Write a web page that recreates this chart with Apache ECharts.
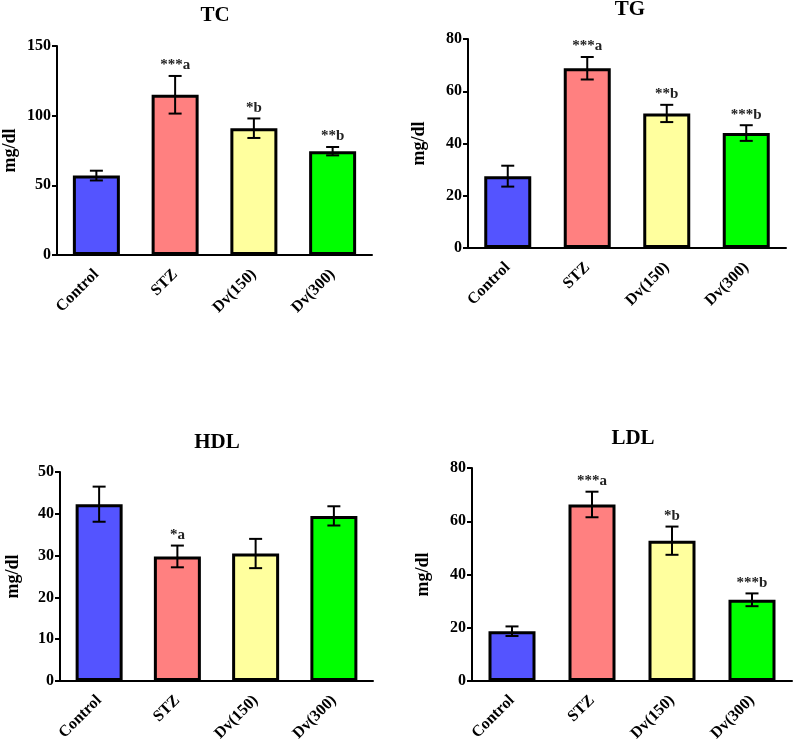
<!DOCTYPE html>
<html><head><meta charset="utf-8">
<script src="https://cdn.jsdelivr.net/npm/echarts@6/dist/echarts.min.js"></script>
<style>html,body{margin:0;padding:0;background:#fff}#c{width:794px;height:741px}</style>
</head><body><div id="c"></div>
<script>
const categories = ['Control', 'STZ', 'Dv(150)', 'Dv(300)'];
const colors = ['#5454FF', '#FF8080', '#FFFF9E', '#00FF00'];

const tcMean = [57, 115, 91, 74.5];
const tcErr = [3.5, 13.5, 7, 3];
const tcMarks = ['', '***a', '*b', '**b'];

const tgMean = [27.5, 68.8, 51.5, 44];
const tgErr = [4, 4.3, 3.3, 3];
const tgMarks = ['', '***a', '**b', '***b'];

const hdlMean = [42.3, 29.8, 30.5, 39.5];
const hdlErr = [4.2, 2.6, 3.5, 2.3];
const hdlMarks = ['', '*a', '', ''];

const ldlMean = [18.7, 66.3, 52.7, 30.5];
const ldlErr = [1.8, 4.8, 5.3, 2.4];
const ldlMarks = ['', '***a', '*b', '***b'];

const panels = [
  {title: 'TC', mean: tcMean, err: tcErr, marks: tcMarks, max: 150, interval: 50,
   grid: {left: 57, top: 46, width: 315, height: 209}, tx: 215, ty: 5},
  {title: 'TG', mean: tgMean, err: tgErr, marks: tgMarks, max: 80, interval: 20,
   grid: {left: 468, top: 39, width: 318, height: 209}, tx: 630, ty: -1},
  {title: 'HDL', mean: hdlMean, err: hdlErr, marks: hdlMarks, max: 50, interval: 10,
   grid: {left: 60, top: 472, width: 313, height: 209}, tx: 217, ty: 432},
  {title: 'LDL', mean: ldlMean, err: ldlErr, marks: ldlMarks, max: 80, interval: 20,
   grid: {left: 472, top: 468, width: 320, height: 213}, tx: 633, ty: 428}
];

const FONT = '"Liberation Serif", "Times New Roman", serif';
const option = {
  animation: false,
  backgroundColor: '#fff',
  title: [], grid: [], xAxis: [], yAxis: [], series: []
};

panels.forEach((p, i) => {
  option.title.push({
    text: p.title, left: p.tx, top: p.ty, textAlign: 'center', padding: 0,
    textStyle: {fontFamily: FONT, fontWeight: 'bold', fontSize: 21, color: '#000'}
  });
  option.grid.push(Object.assign({containLabel: false, outerBoundsMode: 'none'}, p.grid));
  option.xAxis.push({
    type: 'category', gridIndex: i, data: categories,
    axisLine: {lineStyle: {color: '#000', width: 2}},
    axisTick: {alignWithLabel: true, length: 6, lineStyle: {color: '#000', width: 2}},
    axisLabel: {rotate: 45, margin: 17, fontFamily: FONT, fontWeight: 'bold', fontSize: 16, color: '#000', interval: 0}
  });
  option.yAxis.push({
    type: 'value', gridIndex: i, min: 0, max: p.max, interval: p.interval,
    name: 'mg/dl', nameLocation: 'middle', nameGap: i % 2 === 0 ? 38 : 40, nameRotate: 90,
    nameTextStyle: {fontFamily: FONT, fontWeight: 'bold', fontSize: 18, color: '#000'},
    axisLine: {show: true, lineStyle: {color: '#000', width: 2}},
    axisTick: {show: true, length: 5, lineStyle: {color: '#000', width: 2}},
    splitLine: {show: false},
    axisLabel: {margin: 6, fontFamily: FONT, fontWeight: 'bold', fontSize: 16, color: '#000'}
  });
  option.series.push({
    type: 'bar', xAxisIndex: i, yAxisIndex: i, barWidth: 47,
    data: p.mean.map((v, k) => ({value: v, itemStyle: {color: colors[k]}})),
    itemStyle: {borderColor: '#000', borderWidth: 3}
  });
  option.series.push({
    type: 'custom', xAxisIndex: i, yAxisIndex: i, z: 10,
    data: p.mean.map((v, k) => [k, v, p.err[k]]),
    renderItem: function (params, api) {
      const x = api.value(0), m = api.value(1), e = api.value(2);
      const hi = api.coord([x, m + e]);
      const lo = api.coord([x, m - e]);
      const hw = 6.5;
      const st = {stroke: '#000', lineWidth: 2};
      const children = [
        {type: 'line', shape: {x1: hi[0], y1: hi[1], x2: lo[0], y2: lo[1]}, style: st},
        {type: 'line', shape: {x1: hi[0] - hw, y1: hi[1], x2: hi[0] + hw, y2: hi[1]}, style: st},
        {type: 'line', shape: {x1: lo[0] - hw, y1: lo[1], x2: lo[0] + hw, y2: lo[1]}, style: st}
      ];
      const mk = p.marks[params.dataIndex];
      if (mk) {
        children.push({type: 'text', x: hi[0], y: hi[1] - 3,
          style: {text: mk, textAlign: 'center', textVerticalAlign: 'bottom',
            fontFamily: FONT, fontWeight: 'bold', fontSize: 15, fill: '#222'}});
      }
      return {type: 'group', children: children};
    }
  });
});

const chart = echarts.init(document.getElementById('c'), null, {renderer: 'canvas'});
chart.setOption(option);
</script>
</body></html>
